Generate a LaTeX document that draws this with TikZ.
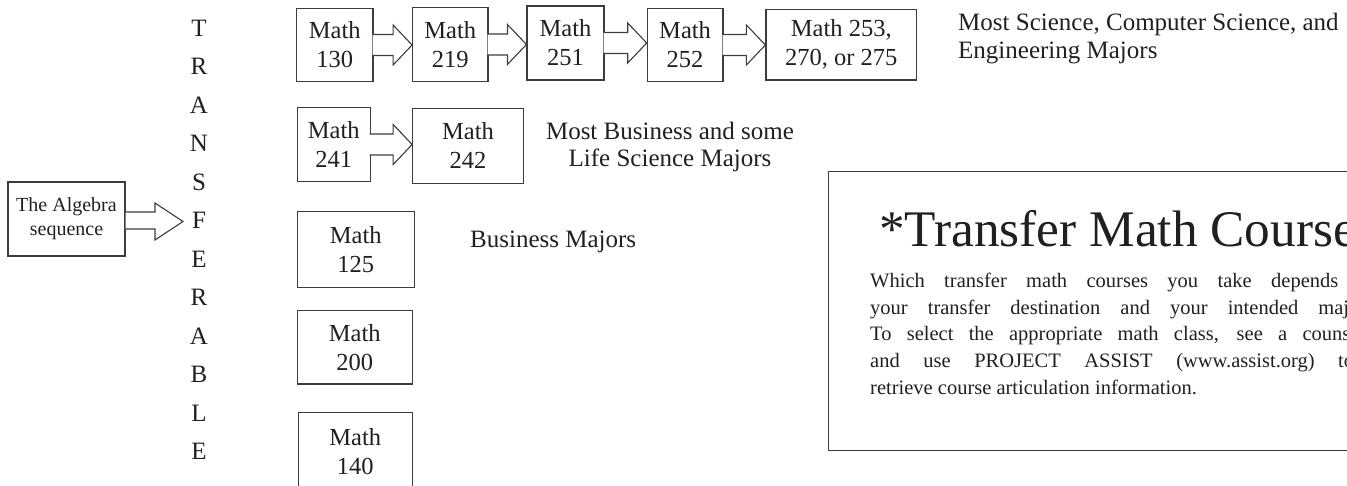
\documentclass[tikz,border=0pt]{standalone}
\usepackage{fontspec}
\setmainfont{Liberation Serif}
\usetikzlibrary{calc}
\definecolor{ink}{HTML}{231F20}
\definecolor{edge}{HTML}{3C3C3C}
\tikzset{
 course/.style={draw=edge, line width=1.1pt, fill=white, align=center, inner sep=0pt, text=ink, font=\fontsize{24.5}{29}\selectfont},
 lbl/.style={text=ink, font=\fontsize{25}{28}\selectfont, inner sep=0pt},
 body/.style={text=ink, font=\fontsize{20.5}{26}\selectfont, inner sep=0pt, anchor=base west},
 blockarr/.style={draw=edge, line width=1.1pt, fill=white, line join=miter},
 vlet/.style={text=ink, font=\fontsize{25}{25}\selectfont, inner sep=0pt},
}
\newcommand\blockarrow[2]{%
 \draw[blockarr] let \p1=(#1.east), \p2=(#2.west) in
 (\x1-1pt,\y1+10.5pt) -- (\x2-19pt,\y1+10.5pt) -- (\x2-19pt,\y1+20pt) -- (\x2,\y1)
 -- (\x2-19pt,\y1-20pt) -- (\x2-19pt,\y1-10.5pt) -- (\x1-1pt,\y1-10.5pt);
}
\begin{document}
\begin{tikzpicture}[x=1pt,y=-1pt]
\useasboundingbox (0,0) rectangle (1347,486);
\clip (0,0) rectangle (1347,486);
% algebra box and arrow
\node[course, font=\fontsize{20}{24}\selectfont, minimum width=117pt, minimum height=74pt] (alg) at (66.5,219) {The Algebra\\sequence};
\coordinate (algtip) at (183,221.5);
\draw[blockarr] (alg.east |- 0,212) -- (155,212) -- (155,203) -- (algtip) -- (155,240) -- (155,229) -- (alg.east |- 0,229);
% vertical word
\foreach \c [count=\i] in {T,R,A,N,S,F,E,R,A,B,L,E}{
 \node[vlet] (let\i) at (199,{28+(\i-1)*38.5}) {\c};
}
% row 1
\node[course, minimum width=76.3pt, minimum height=73.4pt] (m130) at (334.8,45) {Math\\130};
\node[course, minimum width=75.3pt, minimum height=74.4pt] (m219) at (450.3,44.5) {Math\\219};
\node[course, minimum width=77pt, minimum height=74pt] (m251) at (565.5,43) {Math\\251};
\node[course, minimum width=75.7pt, minimum height=73.4pt] (m252) at (685.1,45) {Math\\252};
\node[course, minimum width=150.7pt, minimum height=70.7pt] (m253) at (841.3,44.7) {Math 253,\\270, or 275};
\blockarrow{m130}{m219}
\blockarrow{m219}{m251}
\blockarrow{m251}{m252}
\blockarrow{m252}{m253}
\node[lbl, anchor=base west] (sci1) at (958,30.7) {Most Science, Computer Science, and};
\node[lbl, anchor=base west] (sci2) at (958,58.5) {Engineering Majors};
% row 2
\node[course, minimum width=72.7pt, minimum height=74.4pt] (m241) at (333.7,144.5) {Math\\241};
\node[course, minimum width=110.6pt, minimum height=75pt] (m242) at (468,145.8) {Math\\242};
\blockarrow{m241}{m242}
\node[lbl, anchor=base] (bus1) at (670,139.3) {Most Business and some};
\node[lbl, anchor=base] (bus2) at (670,166.7) {Life Science Majors};
% single courses
\node[course, minimum width=117pt, minimum height=75.6pt] (m125) at (355.8,249.5) {Math\\125};
\node[lbl, anchor=base west] (bus3) at (470,248) {Business Majors};
\node[course, minimum width=115pt, minimum height=73.3pt] (m200) at (354.8,347.3) {Math\\200};
\node[course, minimum width=114pt, minimum height=78pt, anchor=north] (m140) at (355.3,411.7) {Math\\140};
% info box
\node[draw=edge, line width=1.1pt, minimum width=540pt, minimum height=279pt, anchor=north west, inner sep=0pt] (info) at (828,171) {};
\node[text=ink, font=\fontsize{51.3}{52}\selectfont, inner sep=0pt, anchor=base west] (title) at (879,247) {*Transfer Math Course};
\node[body] (b1) at (870,288) {\makebox[508pt][s]{Which transfer math courses you take depends on}};
\node[body] (b2) at (870,314.5) {\makebox[500pt][s]{your transfer destination and your intended major.}};
\node[body] (b3) at (870,341) {\makebox[512pt][s]{To select the appropriate math class, see a counselor}};
\node[body] (b4) at (870,367.5) {\makebox[484pt][s]{and use PROJECT ASSIST (www.assist.org) to}};
\node[body] (b5) at (870,394) {retrieve course articulation information.};
\end{tikzpicture}
\end{document}
